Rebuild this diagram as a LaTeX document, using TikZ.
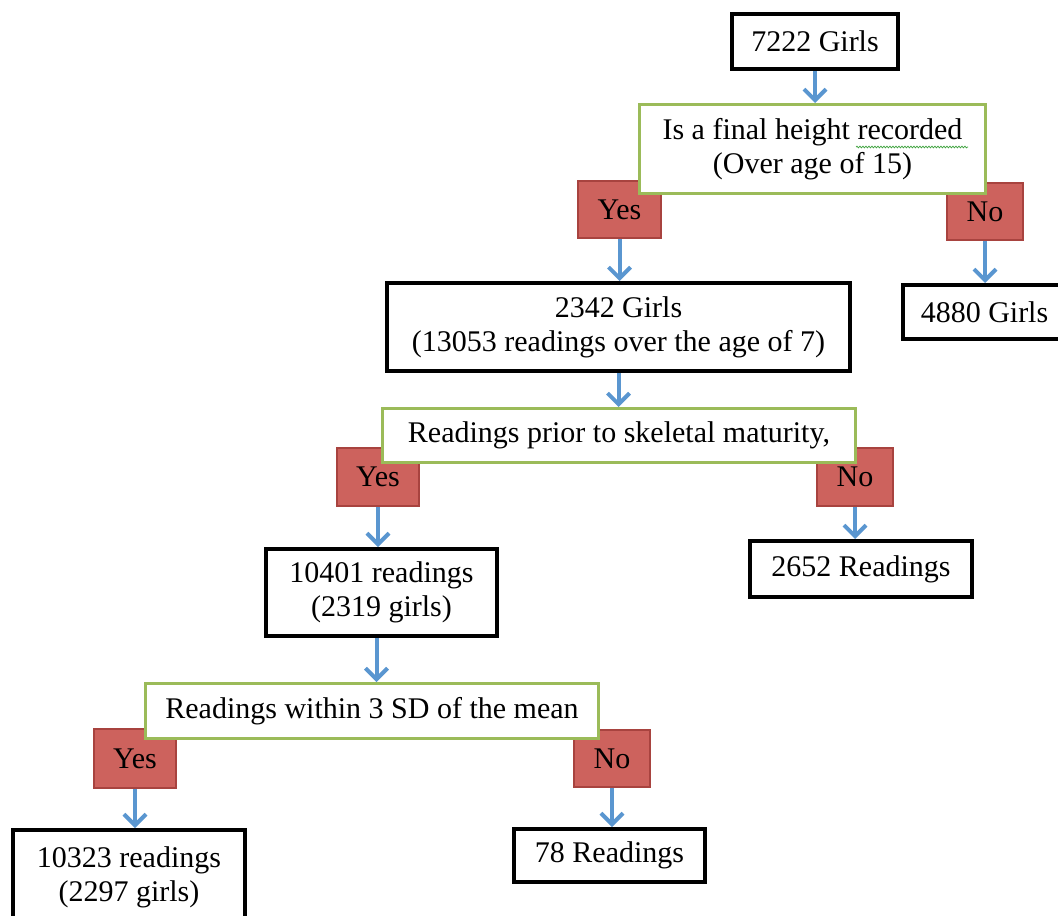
\documentclass[tikz,border=0pt]{standalone}
\usepackage{fontspec}
\setmainfont{Liberation Serif}
\usetikzlibrary{arrows.meta,decorations.pathmorphing}
\definecolor{boxgreen}{HTML}{9BBB59}
\definecolor{redfill}{HTML}{CD625D}
\definecolor{redline}{HTML}{A8433F}
\definecolor{arrowblue}{HTML}{5A96D0}
\definecolor{spellgreen}{HTML}{3FA33F}
\tikzset{
  every node/.style={font=\fontsize{30}{34}\selectfont, align=center, inner sep=0pt},
  blackbox/.style={draw=black, line width=4pt, fill=white},
  greenbox/.style={draw=boxgreen, line width=3pt, fill=white},
  redbox/.style={draw=redline, line width=2pt, fill=redfill},
  flow/.style={draw=arrowblue, line width=4pt, -{Straight Barb[length=11pt,width=22pt,line width=4pt]}}
}
\begin{document}
\begin{tikzpicture}[x=1pt,y=-1pt]
\useasboundingbox (0,0) rectangle (1058,916);
% red answer boxes
\node[redbox, minimum width=83pt, minimum height=57pt] (y1) at (619.5,209.5) {Yes};
\node[redbox, minimum width=76pt, minimum height=57pt] (n1) at (985,211.5) {No};
\node[redbox, minimum width=82pt, minimum height=58pt] (y2) at (378,477) {Yes};
\node[redbox, minimum width=76pt, minimum height=58pt] (n2) at (855,477) {No};
\node[redbox, minimum width=82pt, minimum height=59pt] (y3) at (135,758.5) {Yes};
\node[redbox, minimum width=76pt, minimum height=57pt] (n3) at (612,758.5) {No};
% green question boxes
\node[greenbox, minimum width=346pt, minimum height=89pt] (g1) at (812.5,149) {Is a final height recorded\\(Over age of 15)};
\node[greenbox, minimum width=473pt, minimum height=54pt] (g2) at (619,435.5) {Readings prior to skeletal maturity,};
\node[greenbox, minimum width=453pt, minimum height=55pt] (g3) at (372,711) {Readings within 3 SD of the mean};
% black count boxes
\node[blackbox, minimum width=166pt, minimum height=55pt] (b1) at (815,41.5) {7222 Girls};
\node[blackbox, minimum width=463pt, minimum height=88pt] (b2) at (618.5,327) {2342 Girls\\(13053 readings over the age of 7)};
\node[blackbox, minimum width=163pt, minimum height=54pt] (b3) at (984.5,312) {4880 Girls};
\node[blackbox, minimum width=231pt, minimum height=87pt] (b4) at (381.5,592.5) {10401 readings\\(2319 girls)};
\node[blackbox, minimum width=222pt, minimum height=56pt] (b5) at (861,569) {2652 Readings};
\node[blackbox, minimum width=232pt, minimum height=94pt] (b6) at (129,877) {10323 readings\\(2297 girls)};
\node[blackbox, minimum width=191pt, minimum height=53pt] (b7) at (609.5,855.5) {78 Readings};
% spell-check underline
\coordinate (s1) at (856,147);
\coordinate (s2) at (968,147);
\draw[spellgreen, line width=0.7pt, decorate, decoration={snake, amplitude=0.9pt, segment length=3pt}] (s1) -- (s2);
% connectors
\draw[flow] (b1.south) -- (b1.south |- g1.north);
\draw[flow] (y1.south) -- (y1.south |- b2.north);
\draw[flow] (n1.south) -- (n1.south |- b3.north);
\draw[flow] (b2.south) -- (b2.south |- g2.north);
\draw[flow] (y2.south) -- (y2.south |- b4.north);
\draw[flow] (n2.south) -- (n2.south |- b5.north);
\draw[flow] ([xshift=-5pt]b4.south) -- ([xshift=-5pt]b4.south |- g3.north);
\draw[flow] (y3.south) -- (y3.south |- b6.north);
\draw[flow] (n3.south) -- (n3.south |- b7.north);
\end{tikzpicture}
\end{document}
